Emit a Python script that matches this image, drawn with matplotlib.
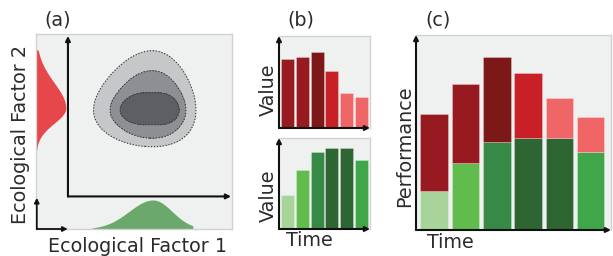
import numpy as np
import matplotlib
matplotlib.use("Agg")
import matplotlib.pyplot as plt

# --- data -------------------------------------------------------------
# panel (b)/(c): bar values per time step
red_values = [0.75, 0.77, 0.83, 0.625, 0.38, 0.34]
green_values = [0.375, 0.645, 0.85, 0.895, 0.895, 0.76]
red_colors = ["#961a1f", "#961a1f", "#7c1818", "#c91f26", "#f06565", "#f06565"]
green_colors = ["#a6d49a", "#62bb4d", "#378a45", "#2d6533", "#2d6533", "#3fa649"]

# panel (a): schematic densities (axes units 0..1)
red_mode, red_sd_lo, red_sd_hi, red_peak = 0.62, 0.078, 0.131, 0.152
red_range = (0.405, 0.918)
green_mode, green_sd_lo, green_sd_hi, green_peak = 0.597, 0.122, 0.097, 0.149
green_range = (0.286, 0.80)
# joint density: mode, skew (stretch to the left / upwards), x:y aspect
joint_mode = (0.592, 0.610)
joint_skew = (0.55, 0.975)
aspect_out, aspect_core, core_radius = 1.12, 2.0, 0.08
# points lying on each contour (outer, middle, inner)
contour_points = [(0.816, 0.61), (0.765, 0.61), (0.730, 0.61)]
contour_colors = ["#c6c7c9", "#8e8f92", "#5e5f63"]

W, H = 613, 256
BG = "#eff1f0"
TXT = "#2b2b2b"
FS = 13.8


def px_axes(fig, x0, y0, x1, y1):
    return fig.add_axes([x0 / W, 1 - y1 / H, (x1 - x0) / W, (y1 - y0) / H])


def two_piece(t, mode, s_lo, s_hi, peak):
    s = np.where(t < mode, s_lo, s_hi)
    return peak * np.exp(-0.5 * ((t - mode) / s) ** 2)


def joint(x, y):
    dx = x - joint_mode[0]
    dy = y - joint_mode[1]
    ux = dx * np.exp(joint_skew[0] * dx)
    uy = dy * np.exp(-joint_skew[1] * dy)
    r2 = 0.4 * ux ** 2 + uy ** 2
    asp = aspect_out + aspect_core * np.exp(-r2 / core_radius ** 2)
    return -(ux ** 2 + (asp * uy) ** 2)


def arrow(ax, start, end, coords="axes fraction", lw=1.5):
    ax.annotate("", xy=end, xytext=start, xycoords=coords, textcoords=coords,
                annotation_clip=False,
                arrowprops=dict(arrowstyle="-|>", color="#111111", lw=lw,
                                mutation_scale=7, shrinkA=0, shrinkB=0))


def style_box(ax, hide_lb=True):
    ax.set_facecolor(BG)
    ax.set_xticks([])
    ax.set_yticks([])
    for side in ["top", "right", "left", "bottom"]:
        ax.spines[side].set_color("#d2d2d2")
        ax.spines[side].set_linewidth(1.0)
    if hide_lb:
        ax.spines["left"].set_visible(False)
        ax.spines["bottom"].set_visible(False)
        arrow(ax, (0, 0), (0, 1))
        arrow(ax, (0, 0), (1, 0))


fig = plt.figure(figsize=(W / 100, H / 100), dpi=100)

# --- (a) ---------------------------------------------------------------
ax = px_axes(fig, 36, 34, 232, 229)
style_box(ax, hide_lb=False)
ax.set_xlim(0, 1)
ax.set_ylim(0, 1)

g = np.linspace(0, 1, 400)
X, Y = np.meshgrid(g, g)
Z = joint(X, Y)
levels = [joint(px, py) for px, py in contour_points] + [1e-6]
ax.contourf(X, Y, Z, levels=levels, colors=contour_colors)
ax.contour(X, Y, Z, levels=levels[:3], colors="#333333", linestyles=":", linewidths=0.8)

yr = np.linspace(*red_range, 300)
ax.fill_betweenx(yr, 0, two_piece(yr, red_mode, red_sd_lo, red_sd_hi, red_peak),
                 color="#e5474b", lw=0)
xg = np.linspace(*green_range, 300)
ax.fill_between(xg, 0, two_piece(xg, green_mode, green_sd_lo, green_sd_hi, green_peak),
                color="#6aa86c", lw=0)

arrow(ax, (0.163, 0.167), (0.163, 0.99), coords="data")
arrow(ax, (0.163, 0.167), (0.995, 0.167), coords="data")
arrow(ax, (0.004, 0.0), (0.004, 0.16), coords="data", lw=1.3)
arrow(ax, (0.004, 0.0), (0.162, 0.0), coords="data", lw=1.3)

# --- (b) ---------------------------------------------------------------
t = np.arange(len(red_values))
axr = px_axes(fig, 279, 36, 370, 128)
style_box(axr)
axr.bar(t, red_values, width=0.9, color=red_colors, edgecolor=(1, 1, 1, 0.3), lw=0.6)
axr.set_xlim(-0.6, 5.6)
axr.set_ylim(0, 1.0)

axg = px_axes(fig, 279, 138, 370, 229)
style_box(axg)
axg.bar(t, green_values, width=0.9, color=green_colors, edgecolor=(1, 1, 1, 0.3), lw=0.6)
axg.set_xlim(-0.6, 5.6)
axg.set_ylim(0, 1.0)

# --- (c) ---------------------------------------------------------------
axc = px_axes(fig, 416, 35, 611, 230)
style_box(axc)
axc.bar(t, green_values, width=0.88, color=green_colors, edgecolor=(1, 1, 1, 0.3), lw=0.6)
axc.bar(t, red_values, width=0.88, bottom=green_values, color=red_colors,
        edgecolor=(1, 1, 1, 0.3), lw=0.6)
axc.set_xlim(-0.58, 5.65)
axc.set_ylim(0, 1.89)

# --- text ----------------------------------------------------------------
def ftext(x, y, s, **kw):
    fig.text(x / W, 1 - y / H, s, fontsize=FS, color=TXT, ha="center", va="center", **kw)


ftext(57.5, 20, "(a)")
ftext(301, 20, "(b)")
ftext(438, 20, "(c)")
ftext(137.5, 246, "Ecological Factor 1")
ftext(21, 135, "Ecological Factor 2", rotation=90)
ftext(268, 90, "Value", rotation=90)
ftext(268, 196, "Value", rotation=90)
ftext(309, 241, "Time")
ftext(405, 146, "Performance", rotation=90)
ftext(450.5, 243, "Time")

fig.savefig("out.png", dpi=100)
